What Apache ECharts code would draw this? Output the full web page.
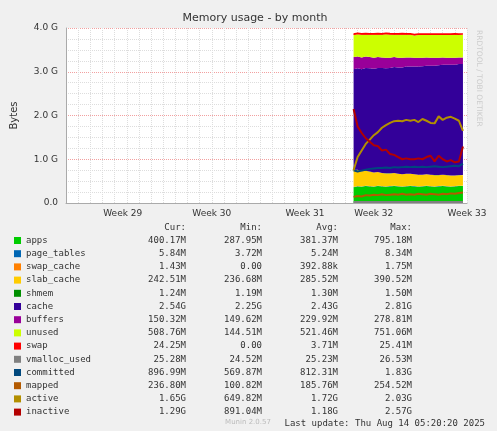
<!DOCTYPE html><html><head><meta charset="utf-8">
<script src="https://cdn.jsdelivr.net/npm/echarts@6/dist/echarts.min.js"></script>
<style>html,body{margin:0;background:#F0F0F0}#c{width:497px;height:431px}</style></head><body><div id="c"></div>
<script>
const SLOTS = 100, START = 71;
const weekLabels = {14:'Week 29',36:'Week 30',59:'Week 31',76:'Week 32',99:'Week 33'};
const apps = [0.36,0.38,0.37,0.39,0.38,0.37,0.39,0.38,0.37,0.38,0.39,0.38,0.37,0.38,0.39,0.38,0.37,0.38,0.39,0.38,0.37,0.38,0.39,0.38,0.37,0.38,0.39,0.39];
const page_tables = [0.005,0.005,0.005,0.006,0.005,0.005,0.006,0.005,0.005,0.006,0.005,0.005,0.006,0.005,0.005,0.006,0.005,0.005,0.006,0.005,0.005,0.006,0.005,0.005,0.006,0.005,0.006,0.006];
const swap_cache = [0.002,0.001,0.001,0.001,0.001,0.001,0.001,0.001,0.001,0.001,0.001,0.001,0.001,0.001,0.001,0.001,0.001,0.001,0.001,0.001,0.001,0.001,0.001,0.001,0.001,0.001,0.001,0.001];
const slab_cache = [0.39,0.37,0.35,0.34,0.33,0.32,0.31,0.30,0.30,0.29,0.29,0.28,0.28,0.28,0.27,0.27,0.27,0.26,0.26,0.26,0.26,0.25,0.25,0.25,0.25,0.24,0.24,0.24];
const shmem = [0.0013,0.0013,0.0013,0.0013,0.0013,0.0013,0.0013,0.0013,0.0013,0.0013,0.0013,0.0013,0.0013,0.0013,0.0013,0.0013,0.0013,0.0013,0.0013,0.0013,0.0013,0.0013,0.0013,0.0013,0.0013,0.0013,0.0013,0.0012];
const cache = [2.30,2.32,2.33,2.35,2.36,2.37,2.38,2.40,2.40,2.41,2.42,2.43,2.44,2.45,2.45,2.46,2.47,2.48,2.48,2.49,2.50,2.51,2.51,2.52,2.53,2.53,2.54,2.54];
const buffers = [0.28,0.27,0.27,0.26,0.26,0.25,0.25,0.24,0.24,0.23,0.23,0.22,0.22,0.21,0.21,0.20,0.20,0.19,0.19,0.18,0.18,0.17,0.17,0.16,0.16,0.16,0.15,0.15];
const unused = [0.50,0.51,0.52,0.50,0.51,0.53,0.51,0.52,0.54,0.53,0.51,0.53,0.53,0.52,0.52,0.51,0.52,0.52,0.51,0.52,0.52,0.52,0.51,0.52,0.52,0.53,0.51,0.51];
const swap = [0.024,0.024,0.024,0.024,0.024,0.024,0.024,0.024,0.024,0.024,0.024,0.024,0.024,0.024,0.024,0.024,0.024,0.024,0.024,0.024,0.024,0.024,0.024,0.024,0.024,0.024,0.024,0.024];
const vmalloc_used = [0.025,0.025,0.025,0.025,0.025,0.025,0.025,0.025,0.025,0.025,0.025,0.025,0.025,0.025,0.025,0.025,0.025,0.025,0.025,0.025,0.025,0.025,0.025,0.025,0.025,0.025,0.025,0.025];
const committed = [0.75,0.72,0.74,0.76,0.78,0.79,0.80,0.80,0.81,0.80,0.82,0.81,0.82,0.83,0.82,0.83,0.82,0.83,0.82,0.83,0.84,0.83,0.82,0.83,0.84,0.85,0.84,0.90];
const mapped = [0.14,0.16,0.15,0.18,0.17,0.19,0.18,0.20,0.18,0.19,0.20,0.19,0.21,0.19,0.20,0.19,0.21,0.20,0.19,0.21,0.20,0.19,0.21,0.20,0.22,0.21,0.23,0.24];
const active = [0.75,1.05,1.20,1.35,1.45,1.55,1.62,1.72,1.78,1.83,1.87,1.88,1.87,1.90,1.88,1.90,1.85,1.92,1.88,1.83,1.82,1.98,1.90,1.95,1.97,1.93,1.88,1.65];
const inactive = [2.15,1.75,1.60,1.48,1.40,1.32,1.30,1.20,1.22,1.12,1.10,1.05,1.00,1.02,1.00,1.00,1.02,1.00,1.05,1.08,0.95,1.08,1.00,0.95,0.98,0.93,0.95,1.29];
const yTicks = ['0.0','1.0 G','2.0 G','3.0 G','4.0 G'];
const legendRows = [
 ['apps','#00CC00','400.17M','287.95M','381.37M','795.18M'],
 ['page_tables','#0066B3','5.84M','3.72M','5.24M','8.34M'],
 ['swap_cache','#FF8000','1.43M','0.00','392.88k','1.75M'],
 ['slab_cache','#FFCC00','242.51M','236.68M','285.52M','390.52M'],
 ['shmem','#008F00','1.24M','1.19M','1.30M','1.50M'],
 ['cache','#330099','2.54G','2.25G','2.43G','2.81G'],
 ['buffers','#990099','150.32M','149.62M','229.92M','278.81M'],
 ['unused','#CCFF00','508.76M','144.51M','521.46M','751.06M'],
 ['swap','#FF0000','24.25M','0.00','3.71M','25.41M'],
 ['vmalloc_used','#808080','25.28M','24.52M','25.23M','26.53M'],
 ['committed','#00487D','896.99M','569.87M','812.31M','1.83G'],
 ['mapped','#B35A00','236.80M','100.82M','185.76M','254.52M'],
 ['active','#B38F00','1.65G','649.82M','1.72G','2.03G'],
 ['inactive','#B30000','1.29G','891.04M','1.18G','2.57G']
];
const pad = a => Array(START).fill(null).concat(a);
const cats = Array.from({length:SLOTS},(_,i)=>weekLabels[i]||'');
const areas = [['apps',apps,'#00CC00'],['page_tables',page_tables,'#0066B3'],['swap_cache',swap_cache,'#FF8000'],['slab_cache',slab_cache,'#FFCC00'],['shmem',shmem,'#008F00'],['cache',cache,'#330099'],['buffers',buffers,'#990099'],['unused',unused,'#CCFF00'],['swap',swap,'#FF0000']];
const lines = [['vmalloc_used',vmalloc_used,'#808080'],['committed',committed,'#00487D'],['mapped',mapped,'#B35A00'],['active',active,'#B38F00'],['inactive',inactive,'#B30000']];
const series = areas.map(([n,d,c])=>({name:n,type:'line',stack:'m',data:pad(d),symbol:'none',lineStyle:{width:n==='swap'?1.5:0,color:c},areaStyle:{color:c,opacity:1},itemStyle:{color:c}}))
 .concat(lines.map(([n,d,c])=>({name:n,type:'line',data:pad(d),symbol:'none',lineStyle:{width:2,color:c},itemStyle:{color:c}})));
const mono = 'DejaVu Sans Mono';
const g = [];
const cols = [186,262,338,412];
['Cur:','Min:','Avg:','Max:'].forEach((t,i)=>g.push({type:'text',x:cols[i],y:223,style:{text:t,font:'9px '+mono,fill:'#333',align:'right'}}));
legendRows.forEach((r,k)=>{const y=236+k*13.2;
 g.push({type:'rect',shape:{x:14,y:y+1,width:7,height:7},style:{fill:r[1]}});
 g.push({type:'text',x:26,y:y,style:{text:r[0],font:'9px '+mono,fill:'#333'}});
 for(let i=0;i<4;i++) g.push({type:'text',x:cols[i],y:y,style:{text:r[2+i],font:'9px '+mono,fill:'#333',align:'right'}});
});
g.push({type:'text',x:485,y:419,style:{text:'Last update: Thu Aug 14 05:20:20 2025',font:'9px '+mono,fill:'#333',align:'right'}});
g.push({type:'text',x:248,y:419,style:{text:'Munin 2.0.57',font:'7px DejaVu Sans',fill:'#bbb',align:'center'}});
g.push({type:'text',x:483,y:30,rotation:-Math.PI/2,style:{text:'RRDTOOL / TOBI OETIKER',font:'7.5px DejaVu Sans',fill:'#ccc'}});
const chart = echarts.init(document.getElementById('c'));
chart.setOption({
 backgroundColor:'#F0F0F0', animation:false,
 title:{text:'Memory usage - by month',left:250,textAlign:'center',top:8,textStyle:{fontFamily:'DejaVu Sans',fontSize:11,fontWeight:'normal',color:'#333'}},
 grid:{left:66,right:30,top:28,bottom:228,show:true,backgroundColor:'#fff',borderWidth:0},
 xAxis:{type:'category',data:cats,boundaryGap:false,
  axisLine:{lineStyle:{color:'#aaa'}},axisTick:{show:false},
  axisLabel:{interval:(i)=>!!weekLabels[i],fontFamily:'DejaVu Sans',fontSize:9,color:'#333',margin:6},
  splitLine:{show:true,interval:(i)=>i%3===0,lineStyle:{color:'#ddd',type:'dotted'}}},
 yAxis:{type:'value',min:0,max:4,interval:1,name:'Bytes',nameLocation:'middle',nameGap:47,nameTextStyle:{fontFamily:'DejaVu Sans',fontSize:10,color:'#333'},
  axisLine:{show:true,lineStyle:{color:'#aaa'}},axisTick:{show:false},
  axisLabel:{formatter:(v)=>yTicks[Math.round(v)],fontFamily:'DejaVu Sans',fontSize:9,color:'#333'},
  splitLine:{lineStyle:{color:'#f2a0a0',type:'dotted'}},
  minorTick:{show:false,splitNumber:4},minorSplitLine:{show:true,lineStyle:{color:'#ddd',type:'dotted'}}},
 series:series, graphic:g
});
</script></body></html>
